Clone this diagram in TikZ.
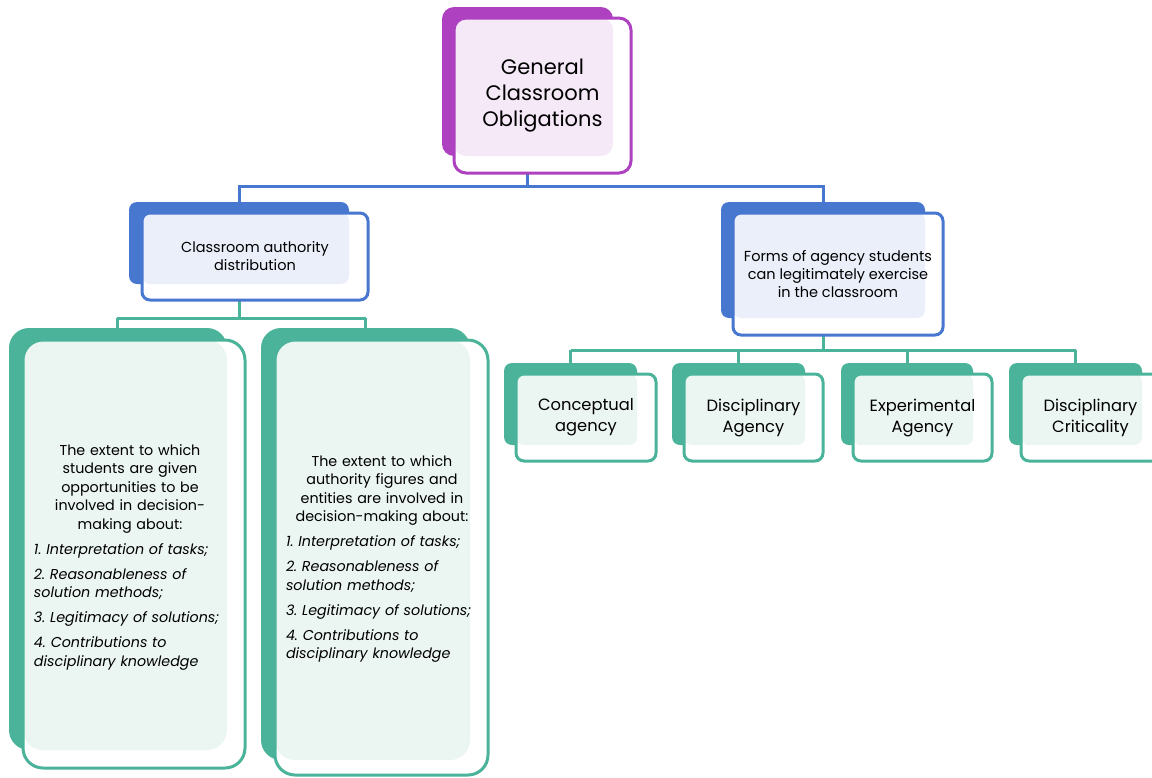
\documentclass[tikz,border=0pt]{standalone}
\usepackage{fontspec}
\setmainfont{Poppins}
\frenchspacing
\definecolor{purpD}{HTML}{AE41C0}
\definecolor{purpL}{HTML}{F5E8F7}
\definecolor{blueD}{HTML}{4877CF}
\definecolor{blueL}{HTML}{EBEFF9}
\definecolor{grnD}{HTML}{4AB399}
\definecolor{grnL}{HTML}{EBF5F2}
\definecolor{txt}{HTML}{000000}
\tikzset{
  bk/.style={rectangle, fill=#1, draw=none, inner sep=0pt, outer sep=0pt},
  fr/.style={rectangle, draw=#1, line width=3pt, fill=white, inner sep=0pt, outer sep=0pt, text=txt},
  cn/.style={draw=#1, line width=3pt},
  lfill/.style n args={3}{path picture={\fill[#1, rounded corners=#3] (path picture bounding box.north west) rectangle (#2.south east);}},
}
\begin{document}
\begin{tikzpicture}[x=1pt,y=-1pt]
\useasboundingbox (0,0) rectangle (1152,777);
\clip (0,0) rectangle (1152,777);
% junction coordinates
\coordinate (j1) at (527.5,186);
\coordinate (j2) at (239,318);
\coordinate (j3) at (823,350);

% connectors
\draw[cn=blueD] (527.5,150) -- (j1);
\draw[cn=blueD] (239,186) -| (823,202);
\draw[cn=blueD] (j1) -| (239,202);

% top
\node[bk=purpD, rounded corners=12pt, minimum width=171pt, minimum height=149pt] (topb) at (527.5,81.5) {};
\node[fr=purpD, rounded corners=12pt, minimum width=177pt, minimum height=155pt, lfill={purpL}{topb}{12pt},
  font=\fontsize{21}{26}\selectfont, align=center] (top) at (542.5,95.5) {General\\Classroom\\Obligations};

% level 2
\node[bk=blueD, rounded corners=8pt, minimum width=220pt, minimum height=82pt] (lab) at (239,243) {};
\node[bk=blueD, rounded corners=8pt, minimum width=204pt, minimum height=116pt] (rab) at (823,260) {};

\draw[cn=grnD] (lab.south) -- (j2);
\draw[cn=grnD] (117,318) -- (365.5,318);
\draw[cn=grnD] (117,318) -- (117,330);
\draw[cn=grnD] (365.5,318) -- (365.5,330);
\draw[cn=grnD] (rab.south) -- (j3);
\draw[cn=grnD] (570.5,350) -- (1075.5,350);
\foreach \x in {570.5,738.5,907,1075.5}{\draw[cn=grnD] (\x,350) -- (\x,365);}

\node[fr=blueD, rounded corners=8pt, minimum width=226pt, minimum height=87pt, lfill={blueL}{lab}{8pt},
  font=\fontsize{14.5}{18}\selectfont, align=center] (la) at (255,256.5) {Classroom authority\\distribution};
\node[fr=blueD, rounded corners=8pt, minimum width=210pt, minimum height=122pt, lfill={blueL}{rab}{8pt},
  font=\fontsize{14.5}{18}\selectfont, align=center] (ra) at (838,274) {Forms of agency students\\can legitimately exercise\\in the classroom};

% level 3 left
\node[bk=grnD, rounded corners=20pt, minimum width=218pt, minimum height=422pt] (l1b) at (118,539) {};
\node[fr=grnD, rounded corners=20pt, minimum width=222pt, minimum height=428pt, lfill={grnL}{l1b}{20pt}] (l1) at (134,554) {};
\node[text width=192pt, inner sep=0pt, text=txt, font=\fontsize{14.3}{18.5}\selectfont] (l1t) at (130,557) {%
{\centering The extent to which\\ students are given\\ opportunities to be\\ involved in decision-\\ making about:\par}
\vspace{6.5pt}
{\raggedright\itshape 1. Interpretation of tasks;\par\vspace{6.5pt}
2. Reasonableness of\\ solution methods;\par\vspace{6.5pt}
3. Legitimacy of solutions;\par\vspace{6.5pt}
4. Contributions to\\ disciplinary knowledge\par}};

\node[bk=grnD, rounded corners=20pt, minimum width=209pt, minimum height=432pt] (l2b) at (365.5,544) {};
\node[fr=grnD, rounded corners=20pt, minimum width=213pt, minimum height=435pt, lfill={grnL}{l2b}{20pt}] (l2) at (381.5,557.5) {};
\node[text width=192pt, inner sep=0pt, text=txt, font=\fontsize{14.3}{18.5}\selectfont] (l2t) at (382,559) {%
{\centering The extent to which\\ authority figures and\\ entities are involved in\\ decision-making about:\par}
\vspace{6.5pt}
{\raggedright\itshape 1. Interpretation of tasks;\par\vspace{6.5pt}
2. Reasonableness of\\ solution methods;\par\vspace{6.5pt}
3. Legitimacy of solutions;\par\vspace{6.5pt}
4. Contributions to\\ disciplinary knowledge\par}};

% level 3 right
\node[bk=grnD, rounded corners=8pt, minimum width=133pt, minimum height=82pt] (r1b) at (570.5,404) {};
\node[fr=grnD, rounded corners=8pt, minimum width=140pt, minimum height=87pt, lfill={grnL}{r1b}{8pt},
  font=\fontsize{16.3}{21}\selectfont, align=center] (r1) at (586,417.5) {Conceptual\\agency};
\node[bk=grnD, rounded corners=8pt, minimum width=133pt, minimum height=82pt] (r2b) at (738.5,404) {};
\node[fr=grnD, rounded corners=8pt, minimum width=139pt, minimum height=87pt, lfill={grnL}{r2b}{8pt},
  font=\fontsize{16.3}{21}\selectfont, align=center] (r2) at (753.5,417.5) {Disciplinary\\Agency};
\node[bk=grnD, rounded corners=8pt, minimum width=132pt, minimum height=82pt] (r3b) at (907,404) {};
\node[fr=grnD, rounded corners=8pt, minimum width=139pt, minimum height=87pt, lfill={grnL}{r3b}{8pt},
  font=\fontsize{16.3}{21}\selectfont, align=center] (r3) at (922.5,417.5) {Experimental\\Agency};
\node[bk=grnD, rounded corners=8pt, minimum width=133pt, minimum height=82pt] (r4b) at (1075.5,404) {};
\node[fr=grnD, rounded corners=8pt, minimum width=139pt, minimum height=87pt, lfill={grnL}{r4b}{8pt},
  font=\fontsize{16.3}{21}\selectfont, align=center] (r4) at (1090.5,417.5) {Disciplinary\\Criticality};
\end{tikzpicture}
\end{document}
